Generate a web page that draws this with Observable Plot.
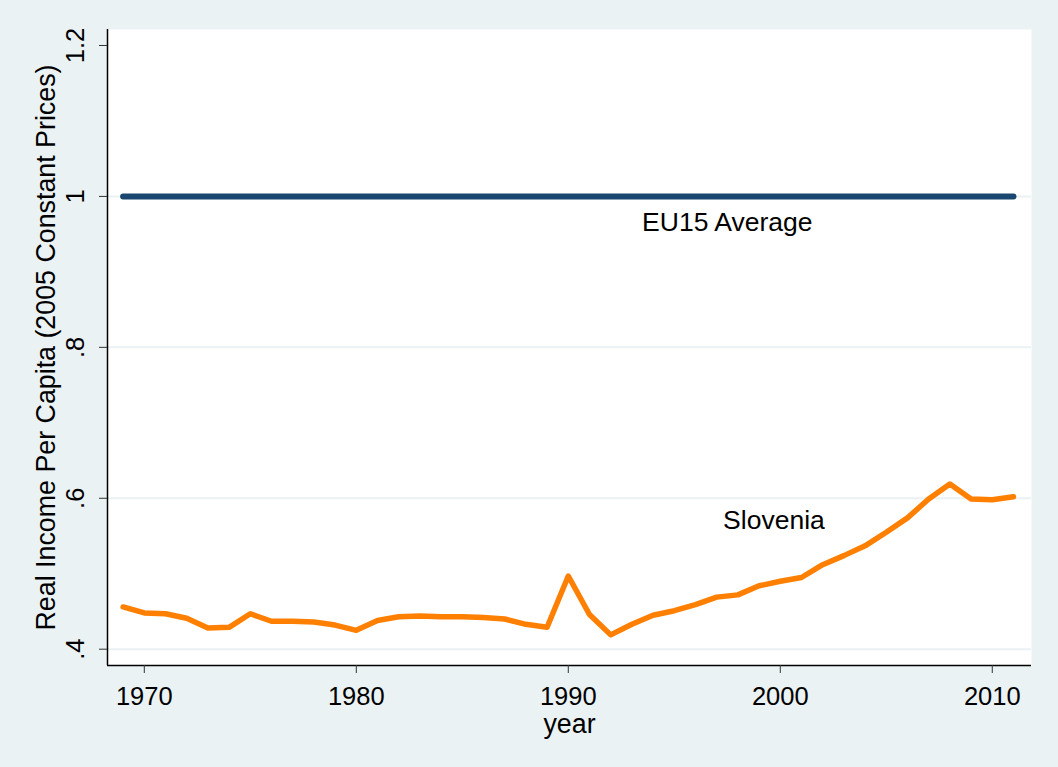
<!DOCTYPE html>
<html>
<head>
<meta charset="utf-8">
<script src="https://cdn.jsdelivr.net/npm/d3@7"></script>
<script src="https://cdn.jsdelivr.net/npm/@observablehq/plot@0.6"></script>
<style>
  html, body { margin: 0; padding: 0; background: #eaf2f3; }
  #chart { width: 1058px; height: 767px; }
</style>
</head>
<body>
<div id="chart"></div>
<script>
const years = d3.range(1969, 2012);
const slovenia = [
  0.456, 0.448, 0.447, 0.441, 0.428, 0.429, 0.447, 0.437, 0.437, 0.436,
  0.432, 0.425, 0.438, 0.443, 0.444, 0.443, 0.443, 0.442, 0.440, 0.433,
  0.429, 0.497, 0.446, 0.419, 0.433, 0.445, 0.451, 0.459, 0.469, 0.472,
  0.484, 0.490, 0.495, 0.512, 0.524, 0.537, 0.555, 0.574, 0.599, 0.619,
  0.599, 0.598, 0.602
];
const eu15 = years.map(() => 1);
const xTicks = [1970, 1980, 1990, 2000, 2010];
const yTicks = [0.4, 0.6, 0.8, 1.0, 1.2];
const yTickLabels = [".4", ".6", ".8", "1", "1.2"];
const gridValues = [0.4, 0.6, 0.8, 1.0];
const labels = [
  {year: 1997.5, value: 0.966, text: "EU15 Average"},
  {year: 1999.7, value: 0.570, text: "Slovenia"}
];
const yTitle = "Real Income Per Capita (2005 Constant Prices)";
const xTitle = "year";

const sloData = years.map((y, i) => ({year: y, value: slovenia[i]}));
const euData = years.map((y, i) => ({year: y, value: eu15[i]}));

const xDomain = [1968.264, 2011.85];
const yDomain = [0.3784, 1.2212];

const chart = Plot.plot({
  width: 1058,
  height: 767,
  marginLeft: 107,
  marginRight: 27,
  marginTop: 29,
  marginBottom: 102,
  style: {background: "#eaf2f3", fontFamily: "'Liberation Sans', Arial, sans-serif", color: "#000"},
  x: {domain: xDomain},
  y: {domain: yDomain},
  marks: [
    Plot.frame({fill: "white", stroke: null}),
    Plot.ruleY(gridValues, {stroke: "#eaf2f3", strokeWidth: 2}),
    Plot.line(euData, {x: "year", y: "value", stroke: "#1a476f", strokeWidth: 6, strokeLinecap: "round", strokeLinejoin: "round"}),
    Plot.line(sloData, {x: "year", y: "value", stroke: "#ff7f00", strokeWidth: 5.5, strokeLinecap: "round", strokeLinejoin: "round"}),
    Plot.text(labels, {x: "year", y: "value", text: "text", fontSize: 26.5, fill: "#000", textAnchor: "middle", lineAnchor: "middle"}),
    Plot.ruleX([xDomain[0]], {stroke: "#000", strokeWidth: 1.5}),
    Plot.ruleY([yDomain[0]], {stroke: "#000", strokeWidth: 1.5}),
    Plot.axisX({ticks: xTicks, tickFormat: d => String(d), tickSize: 8, tickPadding: 13, fontSize: 25.5, label: null, stroke: "#333"}),
    Plot.axisY({ticks: yTicks, tickFormat: () => "", tickSize: 8, label: null, stroke: "#333"}),
    Plot.axisY({ticks: yTicks, tickFormat: d => yTickLabels[yTicks.findIndex(t => Math.abs(t - d) < 1e-9)], tickSize: 0, tickPadding: 24, fontSize: 25.5, rotate: -90, textAnchor: "middle", lineAnchor: "bottom", label: null}),
    Plot.text([yTitle], {frameAnchor: "left", text: d => d, rotate: -90, dx: -53, fontSize: 26.8, textAnchor: "middle", lineAnchor: "bottom", fill: "#000"}),
    Plot.text([xTitle], {frameAnchor: "bottom", text: d => d, dy: 67, fontSize: 26.8, textAnchor: "middle", lineAnchor: "bottom", fill: "#000"})
  ]
});
document.getElementById("chart").appendChild(chart);
</script>
</body>
</html>
